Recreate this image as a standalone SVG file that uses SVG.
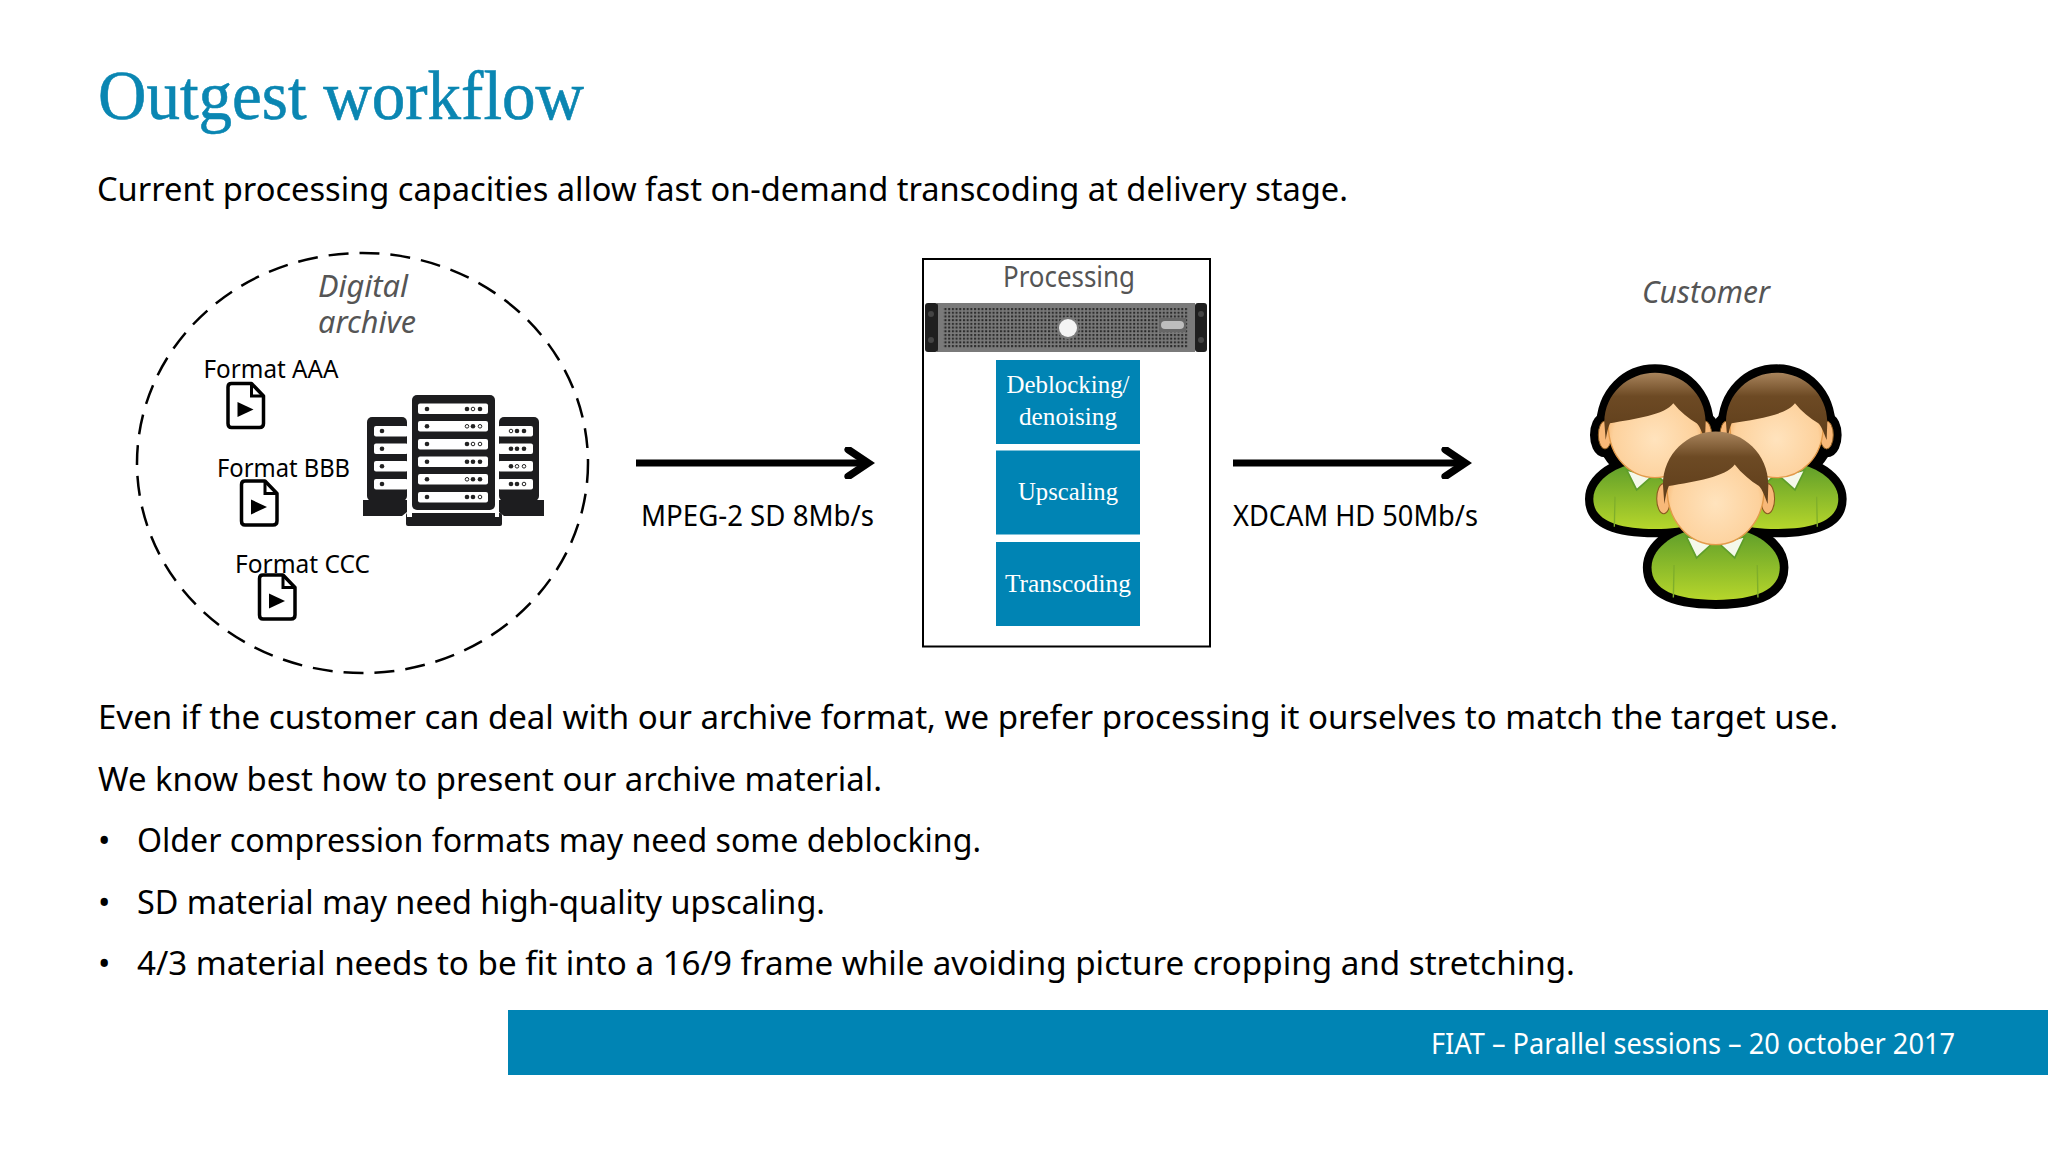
<svg xmlns="http://www.w3.org/2000/svg" xmlns:xlink="http://www.w3.org/1999/xlink" width="2048" height="1152" viewBox="0 0 2048 1152">
<style>
.b{font-family:"Noto Sans","Open Sans",sans-serif;font-size:33px;fill:#000}
.l{font-family:"Noto Sans","Open Sans",sans-serif;font-size:26px;fill:#000}
.g{font-family:"Noto Sans","Open Sans",sans-serif;font-size:30px;fill:#555;font-style:italic}
.s{font-family:"Liberation Serif","DejaVu Serif",serif;font-size:26px;fill:#fff;text-anchor:middle}
.conn{fill:none;stroke:#000;stroke-width:7}
.blue{fill:#0084b4}
.rk{fill:#1d1d1f}
.sl{fill:#fff}
.d{fill:#222}
.o{fill:#fff;stroke:#222;stroke-width:1}
.sil{fill:#000;stroke:#000;stroke-width:50;stroke-linejoin:round}
</style>
<defs>
<marker id="ah" viewBox="0 0 12 12" refX="9" refY="6" markerWidth="4.600" markerHeight="4.600" orient="auto" markerUnits="strokeWidth"><path d="M2,1 L9.500,6 L2,11" fill="none" stroke="#000" stroke-width="2.800" stroke-linecap="round" stroke-linejoin="miter"/></marker>
<pattern id="dots" width="3.700" height="3.700" patternUnits="userSpaceOnUse"><rect width="3.700" height="3.700" fill="#7b7b7b"/><rect x="1" y="1" width="2" height="2" fill="#262626"/></pattern>
<linearGradient id="gr" x1="0" y1="0" x2="0" y2="1"><stop offset="0" stop-color="#5f9e2a"/><stop offset="1" stop-color="#b6d62b"/></linearGradient>
<linearGradient id="hr" x1="0" y1="0" x2="0" y2="1"><stop offset="0" stop-color="#a8845c"/><stop offset=".35" stop-color="#6d4a24"/><stop offset="1" stop-color="#5e3d1a"/></linearGradient>
<radialGradient id="fc" cx=".5" cy=".6" r=".6"><stop offset="0" stop-color="#ffe3bd"/><stop offset=".75" stop-color="#fdd19c"/><stop offset="1" stop-color="#f3a95e"/></radialGradient>
<g id="shape"><ellipse cx="-150" cy="40" rx="20" ry="42"/><ellipse cx="150" cy="40" rx="20" ry="42"/><path d="M-152,20C-152,-85 -80,-147 0,-147C80,-147 152,-85 152,20C152,110 70,170 0,170C-70,170 -152,110 -152,20Z"/><path d="M-185,232C-185,170 -100,128 -60,128L60,128C100,128 185,170 185,232C185,295 115,322 0,322C-115,322 -185,295 -185,232Z"/></g>
<g id="person">
<path d="M-185,232C-185,170 -100,128 -60,128L60,128C100,128 185,170 185,232C185,295 115,322 0,322C-115,322 -185,295 -185,232Z" fill="url(#gr)"/>
<path d="M-120,225L-122,315M120,225L122,315" stroke="#7fae2b" stroke-width="4" fill="none"/>
<path d="M-85,145L-55,205L-10,165Z M85,145L55,205L10,165Z" fill="#f4f8ea" stroke="#5f9e2a" stroke-width="5"/>
<ellipse cx="-150" cy="40" rx="20" ry="42" fill="#f8b878" stroke="#8a5a20" stroke-width="3"/><ellipse cx="150" cy="40" rx="20" ry="42" fill="#f8b878" stroke="#8a5a20" stroke-width="3"/>
<path d="M-140,10C-140,110 -70,168 0,168C70,168 140,110 140,10C140,-60 70,-120 0,-120C-70,-120 -140,-60 -140,10Z" fill="url(#fc)" stroke="#e39a4a" stroke-width="4"/>
<path d="M-152,2C-152,-85 -80,-147 0,-147C80,-147 152,-85 152,2L150,55C140,30 135,15 125,5C100,-10 75,-30 55,-55C30,-20 -60,-8 -135,5C-142,20 -144,35 -148,55Z" fill="url(#hr)"/>
</g>
<g id="file"><path d="M5,1.500H25L37,14V41.500Q37,45.500 33,45.500H5Q1.500,45.500 1.500,41.500V5Q1.500,1.500 5,1.500Z" fill="#fff" stroke="#000" stroke-width="3.500" stroke-linejoin="round"/><path d="M25,1.500V14H37" fill="none" stroke="#000" stroke-width="3"/><path d="M11,20V35L27,27.500Z" fill="#000"/></g>
</defs>
<rect width="2048" height="1152" fill="#fff"/>
<text x="98" y="119" font-family="Liberation Serif,DejaVu Serif,serif" font-size="70" fill="#0a86b2" stroke="#0a86b2" stroke-width=".6" textLength="486" lengthAdjust="spacingAndGlyphs">Outgest workflow</text>
<text class="b" x="97" y="201" textLength="1251" lengthAdjust="spacingAndGlyphs">Current processing capacities allow fast on-demand transcoding at delivery stage.</text>
<g id="archive">
<ellipse cx="362.500" cy="463" rx="225.500" ry="210" fill="none" stroke="#000" stroke-width="2.500" stroke-dasharray="20 11"/>
<text class="g" x="318" y="297" textLength="90" lengthAdjust="spacingAndGlyphs">Digital</text>
<text class="g" x="318" y="333" textLength="98" lengthAdjust="spacingAndGlyphs">archive</text>
<text class="l" x="203.500" y="378" textLength="135" lengthAdjust="spacingAndGlyphs">Format AAA</text>
<text class="l" x="217" y="477" textLength="133" lengthAdjust="spacingAndGlyphs">Format BBB</text>
<text class="l" x="235" y="573" textLength="135" lengthAdjust="spacingAndGlyphs">Format CCC</text>
<use xlink:href="#file" href="#file" x="226.500" y="382"/>
<use xlink:href="#file" href="#file" x="240" y="479.500"/>
<use xlink:href="#file" href="#file" x="258" y="573.500"/>
<g id="rack">
<rect class="rk" x="367" y="417" width="40" height="84" rx="5"/><rect class="rk" x="499" y="417" width="40" height="84" rx="5"/>
<path class="rk" d="M363,500H407V512L402,516H363Z M499,500H544V516H504L499,512Z"/>
<rect class="rk" x="412" y="395" width="83" height="115" rx="5"/>
<rect class="rk" x="406" y="513" width="96" height="13" rx="2"/>
<rect x="407" y="417" width="5" height="100" fill="#fff"/><rect x="495" y="417" width="4" height="100" fill="#fff"/>
<g class="sl"><rect x="418" y="403.500" width="70" height="10.500" rx="2"/><rect x="418" y="421" width="70" height="10.500" rx="2"/><rect x="418" y="439" width="70" height="10.500" rx="2"/><rect x="418" y="456.500" width="70" height="10.500" rx="2"/><rect x="418" y="474" width="70" height="10.500" rx="2"/><rect x="418" y="492" width="70" height="10.500" rx="2"/>
<rect x="374" y="426" width="34" height="10.500" rx="2"/><rect x="374" y="443.500" width="34" height="10.500" rx="2"/><rect x="374" y="461" width="34" height="10.500" rx="2"/><rect x="374" y="479" width="34" height="10.500" rx="2"/>
<rect x="498" y="426" width="35" height="10.500" rx="2"/><rect x="498" y="443.500" width="35" height="10.500" rx="2"/><rect x="498" y="461" width="35" height="10.500" rx="2"/><rect x="498" y="479" width="35" height="10.500" rx="2"/></g>
<g class="d"><circle cx="427" cy="409" r="2.300"/><circle cx="427" cy="426.300" r="2.300"/><circle cx="427" cy="444" r="2.300"/><circle cx="427" cy="461.700" r="2.300"/><circle cx="427" cy="479.300" r="2.300"/><circle cx="427" cy="497" r="2.300"/><circle cx="382" cy="431" r="2.300"/><circle cx="382" cy="448.700" r="2.300"/><circle cx="382" cy="466.300" r="2.300"/><circle cx="382" cy="484" r="2.300"/>
<circle cx="467" cy="409" r="2.300"/><circle class="o" cx="473" cy="409" r="1.800"/><circle cx="480" cy="409" r="2.300"/>
<circle class="o" cx="467" cy="426.300" r="1.800"/><circle cx="473" cy="426.300" r="2.300"/><circle class="o" cx="480" cy="426.300" r="1.800"/>
<circle cx="467" cy="444" r="2.300"/><circle class="o" cx="473" cy="444" r="1.800"/><circle class="o" cx="480" cy="444" r="1.800"/>
<circle cx="467" cy="461.700" r="2.300"/><circle cx="473" cy="461.700" r="2.300"/><circle cx="480" cy="461.700" r="2.300"/>
<circle class="o" cx="467" cy="479.300" r="1.800"/><circle cx="473" cy="479.300" r="2.300"/><circle cx="480" cy="479.300" r="2.300"/>
<circle cx="467" cy="497" r="2.300"/><circle cx="473" cy="497" r="2.300"/><circle class="o" cx="480" cy="497" r="1.800"/>
<circle class="o" cx="511" cy="431" r="1.800"/><circle cx="517" cy="431" r="2.300"/><circle cx="524" cy="431" r="2.300"/>
<circle cx="511" cy="448.700" r="2.300"/><circle cx="517" cy="448.700" r="2.300"/><circle cx="524" cy="448.700" r="2.300"/>
<circle cx="511" cy="466.300" r="2.300"/><circle class="o" cx="517" cy="466.300" r="1.800"/><circle class="o" cx="524" cy="466.300" r="1.800"/>
<circle cx="511" cy="484" r="2.300"/><circle cx="517" cy="484" r="2.300"/><circle class="o" cx="524" cy="484" r="1.800"/></g>
</g>
</g>
<g id="connectors">
<path class="conn" d="M636,463H867" marker-end="url(#ah)"/>
<path class="conn" d="M1233,463H1464" marker-end="url(#ah)"/>
</g>
<text class="l" x="641" y="526" textLength="233" lengthAdjust="spacingAndGlyphs" style="font-size:29px">MPEG-2 SD 8Mb/s</text>
<text class="l" x="1233" y="526" textLength="245" lengthAdjust="spacingAndGlyphs" style="font-size:29px">XDCAM HD 50Mb/s</text>
<g id="processing">
<rect x="923" y="259" width="287" height="387.500" fill="#fff" stroke="#000" stroke-width="2"/>
<text x="1003" y="286.500" textLength="132" lengthAdjust="spacingAndGlyphs" font-family="Noto Sans,Open Sans,sans-serif" font-size="29" fill="#555">Processing</text>
<g id="server">
<rect x="937" y="303" width="258" height="49" fill="#7a7a7a"/>
<rect x="925" y="303" width="13" height="49" rx="3" fill="#1f1f1f"/><rect x="1195" y="303" width="12" height="49" rx="3" fill="#1f1f1f"/>
<circle cx="931" cy="314" r="3" fill="#444"/><circle cx="931" cy="340" r="3" fill="#444"/><circle cx="1201" cy="314" r="3" fill="#444"/><circle cx="1201" cy="340" r="3" fill="#444"/>
<rect x="943" y="307" width="245" height="41" fill="url(#dots)"/>
<circle cx="1068" cy="328" r="11" fill="#7a7a7a"/><circle cx="1068" cy="328" r="9" fill="#f4f4f4"/>
<rect x="1159" y="318" width="27" height="14" fill="#666"/><rect x="1161" y="321" width="23" height="8" rx="4" fill="#bdbdbd"/>
</g>
<g id="deblocking"><rect class="blue" x="996" y="360" width="144" height="84"/><text class="s" x="1068" y="393" textLength="123" lengthAdjust="spacingAndGlyphs">Deblocking/</text><text class="s" x="1068" y="425" textLength="98" lengthAdjust="spacingAndGlyphs">denoising</text></g>
<g id="upscaling"><rect class="blue" x="996" y="450.500" width="144" height="84"/><text class="s" x="1068" y="500" textLength="100" lengthAdjust="spacingAndGlyphs">Upscaling</text></g>
<g id="transcoding"><rect class="blue" x="996" y="542" width="144" height="84"/><text class="s" x="1068" y="592" textLength="126" lengthAdjust="spacingAndGlyphs">Transcoding</text></g>
</g>
<g id="customer">
<text class="g" x="1642" y="303" textLength="128" lengthAdjust="spacingAndGlyphs">Customer</text>
<g transform="translate(1560 340) scale(.3333)">
<use xlink:href="#shape" href="#shape" class="sil" transform="translate(285 245)"/>
<use xlink:href="#shape" href="#shape" class="sil" transform="translate(650 245)"/>
<use xlink:href="#shape" href="#shape" class="sil" transform="translate(467 433) scale(1.04 1.077)"/>
<use xlink:href="#person" href="#person" transform="translate(285 245)"/>
<use xlink:href="#person" href="#person" transform="translate(650 245)"/>
<use xlink:href="#person" href="#person" transform="translate(467 433) scale(1.04 1.077)"/>
</g>
</g>
<text class="b" x="98" y="729" textLength="1740" lengthAdjust="spacingAndGlyphs">Even if the customer can deal with our archive format, we prefer processing it ourselves to match the target use.</text>
<text class="b" x="98" y="791" textLength="784" lengthAdjust="spacingAndGlyphs">We know best how to present our archive material.</text>
<text class="b" x="98" y="852">•</text><text class="b" x="137" y="852" textLength="844" lengthAdjust="spacingAndGlyphs">Older compression formats may need some deblocking.</text>
<text class="b" x="98" y="913.500">•</text><text class="b" x="137" y="913.500" textLength="688" lengthAdjust="spacingAndGlyphs">SD material may need high-quality upscaling.</text>
<text class="b" x="98" y="975">•</text><text class="b" x="137" y="975" textLength="1438" lengthAdjust="spacingAndGlyphs">4/3 material needs to be fit into a 16/9 frame while avoiding picture cropping and stretching.</text>
<g id="footer"><rect class="blue" x="508" y="1010" width="1540" height="65"/><text x="1431" y="1054" textLength="524" lengthAdjust="spacingAndGlyphs" font-family="Noto Sans,Open Sans,sans-serif" font-size="29" fill="#fff">FIAT – Parallel sessions – 20 october 2017</text></g>
</svg>
